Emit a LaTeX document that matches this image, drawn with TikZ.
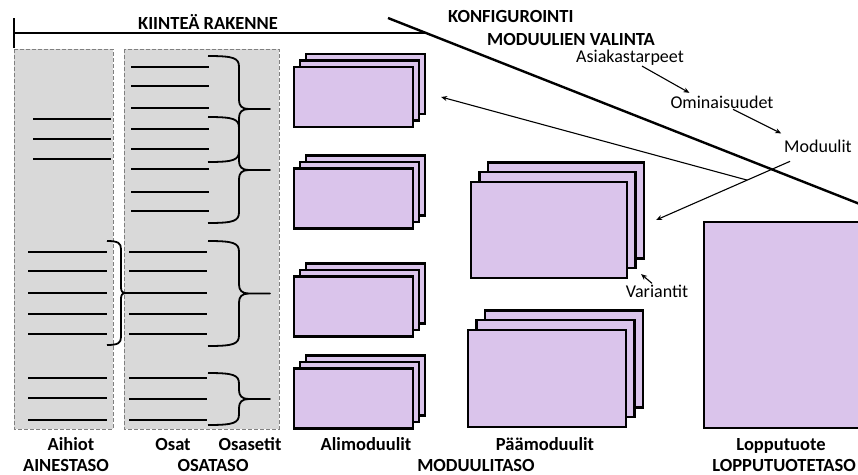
\documentclass[tikz,border=0pt]{standalone}
\usepackage{fontspec}
\setmainfont{Carlito}
\usepackage{tikz}
\usetikzlibrary{calc}
\usetikzlibrary{shadows}
\usetikzlibrary{arrows.meta}

\definecolor{violetti}{RGB}{218,196,235}
\definecolor{harmaa}{RGB}{217,217,217}

\tikzset{
  taso/.style={draw=gray, fill=harmaa, dash pattern=on 4pt off 2pt, line width=0.9pt},
  viiva/.style={line width=2.8pt},
  sulje/.style={line width=1.8pt, line join=round},
  moduli/.style={draw, fill=violetti, line width=2.2pt, inner sep=0pt},
  alipino/.style={copy shadow={shadow xshift=12pt, shadow yshift=13pt},
                  copy shadow={shadow xshift=6pt, shadow yshift=6.5pt}},
  paapino/.style={copy shadow={shadow xshift=17pt, shadow yshift=19.5pt},
                  copy shadow={shadow xshift=8.5pt, shadow yshift=9.75pt}},
  otsikko/.style={font=\bfseries\fontsize{18.5}{20}\selectfont, inner sep=1pt, anchor=base},
  teksti/.style={font=\fontsize{18}{20}\selectfont, inner sep=1pt, anchor=base},
  nuoli/.style={-{Stealth[length=6pt,width=5pt]}, line width=1.1pt},
}

\begin{document}
\begin{tikzpicture}[x=1pt,y=-1pt]
    \useasboundingbox (0,0) rectangle (858,474);

    % kiintea rakenne ja konfiguroinnin raja
    \coordinate (K1) at (388,18);
    \coordinate (K2) at (880,212);
    \draw[line width=2.2pt] (14,18) -- (14,48);
    \draw[line width=2.2pt] (14,33) -- (427,33);
    \draw[line width=2.4pt] (K1) -- (K2);
    \node[otsikko] (kiintea) at (208,29) {KIINTEÄ RAKENNE};
    \node[otsikko, anchor=base west] (konfig) at (447,22) {KONFIGUROINTI};
    \node[otsikko, anchor=base west] (valinta) at (486,45) {MODUULIEN VALINTA};

    % ainestaso ja osataso
    \draw[taso] (14,49) rectangle (113,429);
    \draw[taso] (124,49) rectangle (279,429);

    \foreach \y in {119,139,159}
        \draw[viiva] (33,\y) -- (111,\y);
    \foreach \y in {252,271,293,314,334,378,398,420}
        \draw[viiva] (28,\y) -- (107,\y);
    \foreach \y in {67,86,108,129,149,169,192,211}
        \draw[viiva] (131,\y) -- (209,\y);
    \foreach \y in {252,271,314,334,378,399,420}
        \draw[viiva] (129,\y) -- (207,\y);
    \draw[viiva] (122,293) -- (207,293);

    \draw[sulje] (107,241) .. controls (118,241) and (121,243) .. (121,249) -- (121,287)
        .. controls (121,291) and (122,293) .. (126,293)
        .. controls (122,293) and (121,295) .. (121,299) -- (121,337)
        .. controls (121,343) and (118,345) .. (107,345);

    \foreach \yt/\yb [evaluate=\yb as \ym using (\yt+\yb)/2] in {56/162, 117/223, 241/346, 373/425}
        \draw[sulje] (208,\yt) .. controls (234,\yt) and (239,\yt+2) .. (239,\yt+11) -- (239,\ym-9)
            .. controls (239,\ym-3) and (242,\ym) .. (249,\ym) -- (270,\ym) -- (249,\ym)
            .. controls (242,\ym) and (239,\ym+3) .. (239,\ym+9) -- (239,\yb-11)
            .. controls (239,\yb-2) and (234,\yb) .. (208,\yb);

    % moduulitaso
    \node[moduli, alipino, minimum width=119pt, minimum height=60pt] (ali1) at (353.5,97) {};
    \node[moduli, alipino, minimum width=119pt, minimum height=60pt] (ali2) at (353.5,198.5) {};
    \node[moduli, alipino, minimum width=119pt, minimum height=60pt] (ali3) at (353.5,306.5) {};
    \node[moduli, alipino, minimum width=119pt, minimum height=60pt] (ali4) at (353.5,398.5) {};

    \node[moduli, paapino, minimum width=156pt, minimum height=96pt] (paa1) at (549,230) {};
    \node[moduli, paapino, minimum width=158pt, minimum height=97pt] (paa2) at (547,378.5) {};

    % lopputuotetaso
    \node[moduli, anchor=north west, minimum width=170pt, minimum height=206pt] (loppu) at (703,221) {};

    % valintaketju
    \node[teksti] (asiakas) at (630,62) {Asiakastarpeet};
    \node[teksti] (ominais) at (722,108) {Ominaisuudet};
    \node[teksti] (moduulit) at (818,152) {Moduulit};
    \node[teksti] (variantit) at (657,297) {Variantit};

    \draw[nuoli, shorten >=3pt] ([xshift=12pt]asiakas.south) -- ([xshift=-30pt]ominais.north);
    \draw[nuoli, shorten >=2pt] ([xshift=11pt]ominais.south) -- ([shift={(-35pt,4pt)}]moduulit.north);

    \coordinate (haara) at ($(moduulit.south west)+(7,8)$);
    \coordinate (paakohde) at ($(paa1.east)+(28,-10)$);
    \draw[nuoli] (haara) -- (paakohde);
    \draw[nuoli] ($(haara)!0.32!(paakohde)$) -- ([xshift=27pt]ali1.east);
    \draw[nuoli] ([xshift=-5pt]variantit.north) -- ($(paa1.south east)+(13,-5)$);

    % tasojen nimet
    \node[otsikko] (aihiot) at (71,450) {Aihiot};
    \node[otsikko] (ainestaso) at (66,471) {AINESTASO};
    \node[otsikko] (osat) at (173,450) {Osat};
    \node[otsikko] (osasetit) at (250,450) {Osasetit};
    \node[otsikko] (osataso) at (213,471) {OSATASO};
    \node[otsikko] (alimod) at (366,450) {Alimoduulit};
    \node[otsikko] (moduulitaso) at (476,471) {MODUULITASO};
    \node[otsikko] (paamod) at (545,450) {Päämoduulit};
    \node[otsikko] (lopputuote) at (781,450) {Lopputuote};
    \node[otsikko, anchor=base east] (lopputaso) at (857,471) {LOPPUTUOTETASO};
\end{tikzpicture}
\end{document}
